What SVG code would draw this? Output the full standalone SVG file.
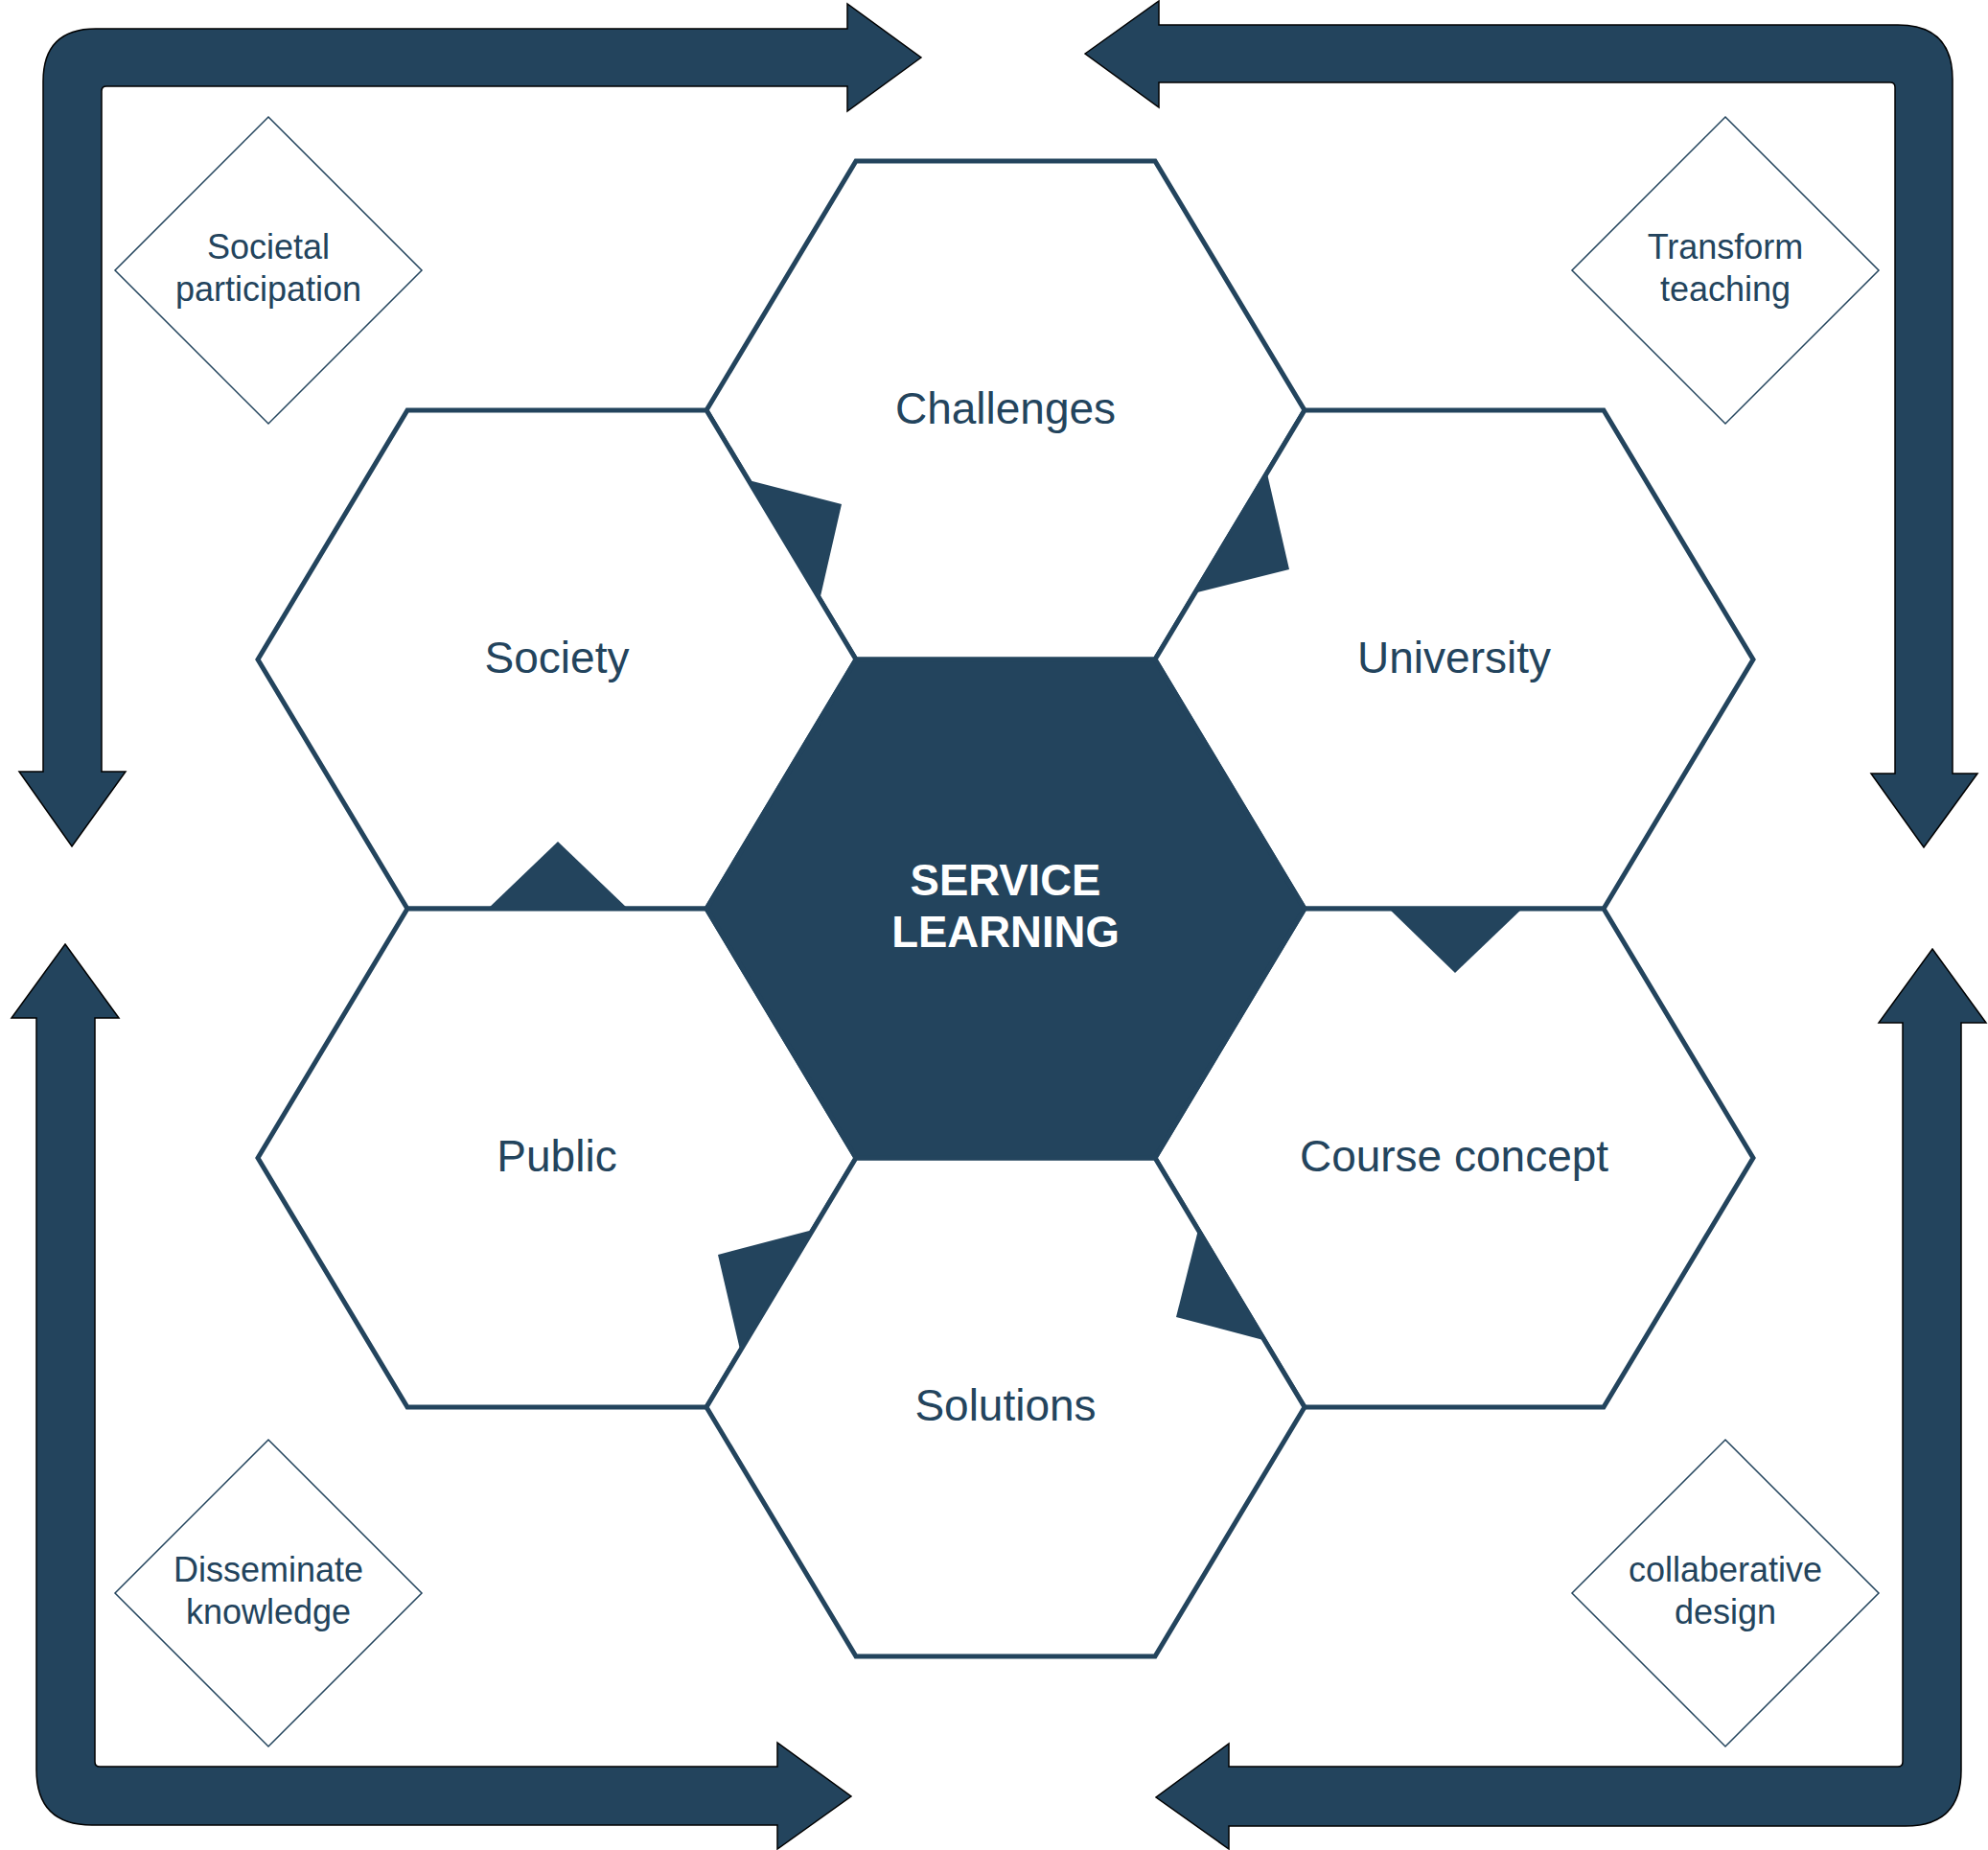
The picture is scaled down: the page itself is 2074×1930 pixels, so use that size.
<svg xmlns="http://www.w3.org/2000/svg" width="2074" height="1930" viewBox="0 0 2074 1930">
<style>
.hex{fill:#ffffff;stroke:#23445D;stroke-width:5;stroke-linejoin:miter}
.core{fill:#23445D;stroke:#23445D;stroke-width:5}
.tri{fill:#23445D;stroke:none}
.dia{fill:#ffffff;stroke:#23445D;stroke-width:1.5}
.arrow{fill:#23445D;stroke:#000000;stroke-width:1.5;stroke-linejoin:miter}
.lbl{font-family:"Liberation Sans",Arial,Helvetica,sans-serif;font-size:46px;fill:#23445D;text-anchor:middle}
.core-lbl{font-family:"Liberation Sans",Arial,Helvetica,sans-serif;font-size:45.5px;font-weight:bold;fill:#ffffff;text-anchor:middle}
.dlbl{font-family:"Liberation Sans",Arial,Helvetica,sans-serif;font-size:36px;fill:#23445D;text-anchor:middle}
</style>
<rect width="2074" height="1930" fill="#ffffff"/>
<g id="connectors">
<path class="arrow" d="M961,60 L884,116 L884,90 L111,90 Q106,90 106,95 L106,805 L131,805 L75,883 L20,805 L45,805 L45,85 Q45,30 100,30 L884,30 L884,4 Z"/>
<path class="arrow" d="M1132,56 L1209,1 L1209,26 L1980,26 Q2037,26 2037,83 L2037,807 L2063,807 L2007,884 L1952,807 L1977,807 L1977,91 Q1977,86 1972,86 L1209,86 L1209,112 Z"/>
<path class="arrow" d="M68,985 L124,1062 L99,1062 L99,1838 Q99,1843 104,1843 L811,1843 L811,1818 L888,1874 L811,1929 L811,1904 L96,1904 Q38,1904 38,1846 L38,1062 L12,1062 Z"/>
<path class="arrow" d="M2016,990 L2072,1067 L2046,1067 L2046,1847 Q2046,1905 1988,1905 L1282,1905 L1282,1929 L1206,1875 L1282,1819 L1282,1843 L1980,1843 Q1985,1843 1985,1838 L1985,1067 L1960,1067 Z"/>
</g>
<g id="node-challenges">
<polygon class="hex" points="737,428 893,168 1205,168 1361,428 1205,688 893,688"/>
<text class="lbl" x="1049" y="442">Challenges</text>
</g>
<g id="node-society">
<polygon class="hex" points="269,688 425,428 737,428 893,688 737,948 425,948"/>
<text class="lbl" x="581" y="702">Society</text>
</g>
<g id="node-university">
<polygon class="hex" points="1205,688 1361,428 1673,428 1829,688 1673,948 1361,948"/>
<text class="lbl" x="1517" y="702">University</text>
</g>
<g id="node-public">
<polygon class="hex" points="269,1208 425,948 737,948 893,1208 737,1468 425,1468"/>
<text class="lbl" x="581" y="1222">Public</text>
</g>
<g id="node-course-concept">
<polygon class="hex" points="1205,1208 1361,948 1673,948 1829,1208 1673,1468 1361,1468"/>
<text class="lbl" x="1517" y="1222">Course concept</text>
</g>
<g id="node-solutions">
<polygon class="hex" points="737,1468 893,1208 1205,1208 1361,1468 1205,1728 893,1728"/>
<text class="lbl" x="1049" y="1482">Solutions</text>
</g>
<g id="node-service-learning">
<polygon class="core" points="737,948 893,688 1205,688 1361,948 1205,1208 893,1208"/>
<text class="core-lbl" x="1049" y="934">SERVICE</text>
<text class="core-lbl" x="1049" y="988">LEARNING</text>
</g>
<g id="flow-markers">
<polygon class="tri" points="781,501 878,526 856,622"/>
<polygon class="tri" points="1322,494 1345,594 1249,618"/>
<polygon class="tri" points="509,948 582,878 655,948"/>
<polygon class="tri" points="1449,948 1518,1015 1588,948"/>
<polygon class="tri" points="848,1283 749,1309 772,1408"/>
<polygon class="tri" points="1250,1283 1227,1374 1318,1398"/>
</g>
<g id="node-societal-participation">
<polygon class="dia" points="280,122 440,282 280,442 120,282"/>
<text class="dlbl" x="280" y="270">Societal</text>
<text class="dlbl" x="280" y="314">participation</text>
</g>
<g id="node-transform-teaching">
<polygon class="dia" points="1800,122 1960,282 1800,442 1640,282"/>
<text class="dlbl" x="1800" y="270">Transform</text>
<text class="dlbl" x="1800" y="314">teaching</text>
</g>
<g id="node-disseminate-knowledge">
<polygon class="dia" points="280,1502 440,1662 280,1822 120,1662"/>
<text class="dlbl" x="280" y="1650">Disseminate</text>
<text class="dlbl" x="280" y="1694">knowledge</text>
</g>
<g id="node-collaberative-design">
<polygon class="dia" points="1800,1502 1960,1662 1800,1822 1640,1662"/>
<text class="dlbl" x="1800" y="1650">collaberative</text>
<text class="dlbl" x="1800" y="1694">design</text>
</g>
</svg>
